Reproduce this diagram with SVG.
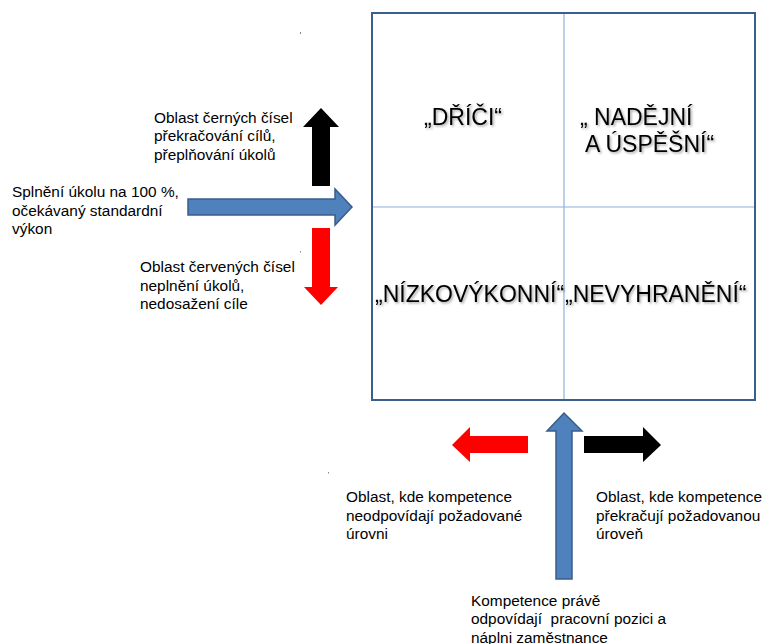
<svg xmlns="http://www.w3.org/2000/svg" width="763" height="644" viewBox="0 0 763 644">
<defs>
<style>
.t{font-family:"Liberation Sans",Arial,sans-serif;font-size:15.4px;fill:#000}
.q{font-family:"Liberation Sans",Arial,sans-serif;font-size:23px;fill:#000;filter:url(#sh)}
.blue{fill:#4f81bd;stroke:#385d8a;stroke-width:1.5}
.red{fill:#ff0000}
.blk{fill:#000}
.frame{fill:#fff;stroke:#3a5f8e;stroke-width:2}
.div{stroke:#8db0dc;stroke-width:1.2;fill:none}
</style>
<filter id="sh" x="-10%" y="-30%" width="120%" height="160%">
<feDropShadow dx="1.5" dy="1.5" stdDeviation="1" flood-color="#000" flood-opacity="0.35"/>
</filter>
</defs>
<rect width="763" height="644" fill="#fff"/>

<g id="matrix">
<rect class="frame" x="372" y="13" width="383" height="387"/>
<line class="div" x1="564" y1="14" x2="564" y2="399"/>
<line class="div" x1="373" y1="207" x2="754" y2="207"/>
</g>

<g id="q-drici"><text class="q" x="463" y="125" text-anchor="middle">„DŘÍČI“</text></g>
<g id="q-nadejni">
<text class="q" x="580" y="125">„ NADĚJNÍ</text>
<text class="q" x="585" y="152">A ÚSPĚŠNÍ“</text>
</g>
<g id="q-nizko"><text class="q" x="375" y="302">„NÍZKOVÝKONNÍ“</text></g>
<g id="q-nevyhraneni"><text class="q" x="565" y="302">„NEVYHRANĚNÍ“</text></g>

<g id="connectors">
<polygon id="arrow-black-up" class="blk" points="312,186 312,127 303,127 321,108 339,127 330,127 330,186"/>
<polygon id="arrow-blue-right" class="blue" points="188,199 335,199 335,189 352,207 335,225 335,215 188,215"/>
<polygon id="arrow-red-down" class="red" points="312,228 330,228 330,287 338,287 321,305 304,287 312,287"/>
<polygon id="arrow-red-left" class="red" points="528,436 470,436 470,427 452,445 470,462 470,453 528,453"/>
<polygon id="arrow-blue-up" class="blue" points="556,579 556,431 547,431 564,413 582,431 572,431 572,579"/>
<polygon id="arrow-black-right" class="blk" points="584,436 643,436 643,427 661,445 643,462 643,453 584,453"/>
</g>

<g id="lbl-black">
<text class="t" x="154" y="123">Oblast černých čísel</text>
<text class="t" x="154" y="141">překračování cílů,</text>
<text class="t" x="154" y="159.5">přeplňování úkolů</text>
</g>
<g id="lbl-blue">
<text class="t" x="12" y="197">Splnění úkolu na 100 %,</text>
<text class="t" x="12" y="215.5">očekávaný standardní</text>
<text class="t" x="12" y="234">výkon</text>
</g>
<g id="lbl-red">
<text class="t" x="140" y="272">Oblast červených čísel</text>
<text class="t" x="140" y="290.5">neplnění úkolů,</text>
<text class="t" x="140" y="309">nedosažení cíle</text>
</g>
<g id="lbl-left">
<text class="t" x="346" y="502">Oblast, kde kompetence</text>
<text class="t" x="346" y="520.5">neodpovídají požadované</text>
<text class="t" x="346" y="539">úrovni</text>
</g>
<g id="lbl-right">
<text class="t" x="596" y="502">Oblast, kde kompetence</text>
<text class="t" x="596" y="520.5">překračují požadovanou</text>
<text class="t" x="596" y="539">úroveň</text>
</g>
<g id="lbl-bottom">
<text class="t" x="471" y="605.5" xml:space="preserve">Kompetence právě</text>
<text class="t" x="471" y="624" xml:space="preserve">odpovídají  pracovní pozici a</text>
<text class="t" x="471" y="642.5">náplni zaměstnance</text>
</g>

<g id="specks" fill="#888">
<rect x="300" y="32" width="1" height="2"/>
<rect x="300" y="251" width="1" height="1.5"/>
<rect x="328" y="472" width="1" height="1.5"/>
</g>
</svg>
